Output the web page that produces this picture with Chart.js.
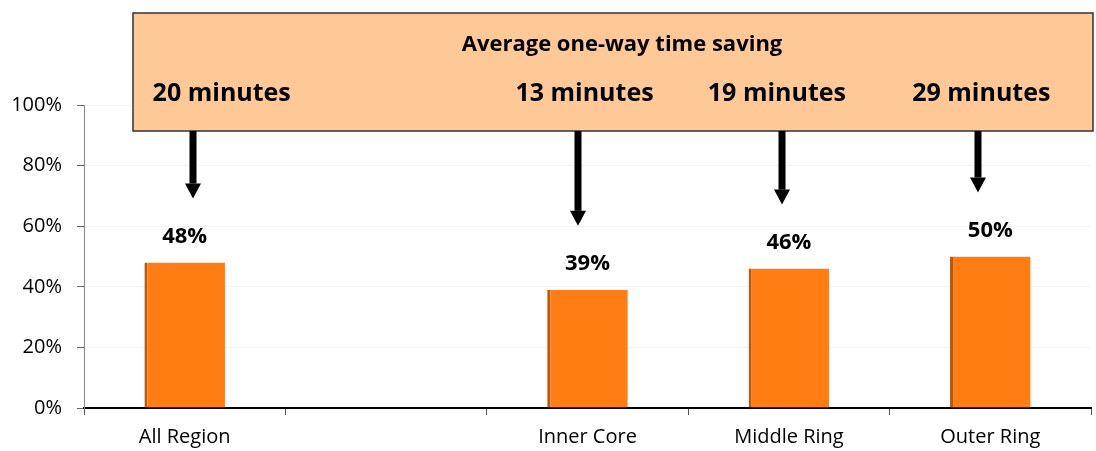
<!DOCTYPE html>
<html>
<head>
<meta charset="utf-8">
<script src="https://cdn.jsdelivr.net/npm/chart.js@4.4.1/dist/chart.umd.min.js"></script>
<style>
  html, body { margin: 0; padding: 0; background: #fff; }
  #wrap { width: 1096px; height: 451px; }
</style>
</head>
<body>
<div id="wrap"><canvas id="timeChart" width="1096" height="451"></canvas></div>
<script>
const categories = ['All Region', '', 'Inner Core', 'Middle Ring', 'Outer Ring']
const shares = [48, null, 39, 46, 50]
const savings = ['20 minutes', null, '13 minutes', '19 minutes', '29 minutes']
const yTicks = [0, 20, 40, 60, 80, 100]
const boxTitle = 'Average one-way time saving'

const FONT = '"Open Sans", sans-serif'

// box, arrows and bar labels on top of the bars
const annotations = {
  id: 'annotations',
  afterDraw(chart) {
    const ctx = chart.ctx
    const meta = chart.getDatasetMeta(0)

    ctx.save()
    // value labels
    ctx.fillStyle = '#000'
    ctx.font = 'bold 22px ' + FONT
    ctx.textAlign = 'center'
    ctx.textBaseline = 'middle'
    meta.data.forEach((bar, i) => {
      if (shares[i] == null) return
      ctx.fillText(shares[i] + '%', bar.x, bar.y - 26)
    })

    // peach box
    const boxL = 133, boxT = 13, boxR = 1093, boxB = 131
    ctx.fillStyle = '#FFC897'
    ctx.fillRect(boxL, boxT, boxR - boxL, boxB - boxT)
    ctx.strokeStyle = '#333'
    ctx.lineWidth = 1.5
    ctx.strokeRect(boxL, boxT, boxR - boxL, boxB - boxT)

    ctx.fillStyle = '#000'
    ctx.font = 'bold 22px ' + FONT
    ctx.fillText(boxTitle, 622, 45)

    const textShift = [37, 0, -3, -12, -9]
    const arrowShift = [8, 0, -10, -7, -12]
    ctx.font = 'bold 25px ' + FONT
    meta.data.forEach((bar, i) => {
      if (savings[i] == null) return
      ctx.fillText(savings[i], bar.x + textShift[i], 94)

      const ax = Math.round(bar.x + arrowShift[i])
      const tip = bar.y - 64
      ctx.fillRect(ax - 3.5, boxB, 7, tip - 15 - boxB)
      ctx.beginPath()
      ctx.moveTo(ax - 8, tip - 15)
      ctx.lineTo(ax + 8, tip - 15)
      ctx.lineTo(ax, tip)
      ctx.closePath()
      ctx.fill()
    })
    ctx.restore()
  }
}

const ctx = document.querySelector('#timeChart')
const timeChart = new Chart(ctx, {
  type: 'bar',
  data: {
    labels: categories,
    datasets: [{
      data: shares,
      backgroundColor: '#FF7D12',
      borderColor: '#B95A0A',
      borderWidth: { left: 3, right: 0, top: 0, bottom: 0 },
      borderSkipped: false,
      categoryPercentage: 0.8,
      barPercentage: 0.5
    }]
  },
  options: {
    responsive: false,
    animation: false,
    layout: { padding: { top: 105, right: 5, left: 0, bottom: 0 } },
    plugins: {
      legend: { display: false },
      tooltip: { enabled: false }
    },
    scales: {
      x: {
        offset: true,
        grid: {
          offset: true,
          drawOnChartArea: false,
          drawTicks: true,
          tickLength: 7,
          color: '#555'
        },
        border: { color: '#000', width: 2 },
        ticks: {
          color: '#000',
          font: { family: FONT, size: 20 },
          padding: 10,
          maxRotation: 0
        },
        afterFit(scale) { scale.height = 43 }
      },
      y: {
        min: 0,
        max: 100,
        afterBuildTicks(scale) { scale.ticks = yTicks.map(v => ({ value: v })) },
        grid: {
          color: '#F3F3F3',
          tickColor: '#666',
          tickLength: 7
        },
        border: { color: '#888', width: 1 },
        ticks: {
          color: '#000',
          font: { family: FONT, size: 20 },
          padding: 15,
          callback: v => v + '%'
        },
        afterFit(scale) { scale.width = 84 }
      }
    }
  },
  plugins: [annotations]
})
</script>
</body>
</html>
